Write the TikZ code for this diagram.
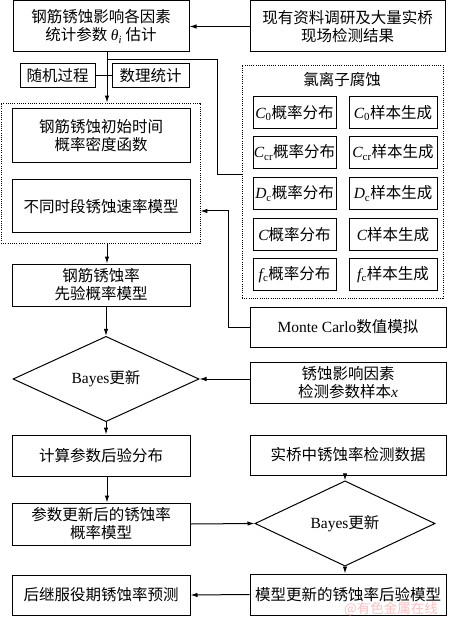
\documentclass[tikz,border=0pt]{standalone}
\usepackage{fontspec}
\setmainfont{Liberation Serif}
\newfontfamily\cjk{Noto Sans CJK SC}
\usetikzlibrary{shapes.geometric,arrows.meta}
\newcommand\lat[1]{{\rmfamily #1}}
\newcommand\lit[1]{{\rmfamily\itshape #1}}
\begin{document}
\begin{tikzpicture}[x=1pt,y=-1pt,
  bx/.style 2 args={draw,line width=1pt,minimum width=#1,minimum height=#2,inner sep=0pt,align=center,font=\cjk\fontsize{15.5}{18}\selectfont},
  dia/.style 2 args={draw,diamond,line width=1pt,minimum width=#1,minimum height=#2,inner sep=0pt,align=center,font=\cjk\fontsize{15.5}{18}\selectfont},
  dotbox/.style 2 args={draw,line width=0.75pt,dash pattern=on 1pt off 1.2pt,minimum width=#1,minimum height=#2,inner sep=0pt},
  arr/.style={line width=1pt,-{Latex[length=7pt,width=4.5pt]}},
  ln/.style={line width=1pt}]
\useasboundingbox (0,0) rectangle (450,617);
\fill[white] (0,0) rectangle (450,617);
% left column
\node[bx={176}{51}] (A) at (101,26.5) {钢筋锈蚀影响各因素\\统计参数 \lit{θ\textsubscript{i}} 估计};
\node[bx={195}{51}] (B) at (347.5,26.5) {现有资料调研及大量实桥\\现场检测结果};
\node[bx={75}{24}] (C) at (57.5,76) {随机过程};
\node[bx={77}{24}] (D) at (150.5,76) {数理统计};
\node[dotbox={199}{140}] (E) at (100.5,173) {};
\node[bx={178}{54}] (E1) at (101,136) {钢筋锈蚀初始时间\\概率密度函数};
\node[bx={178}{53}] (E2) at (101,206.5) {不同时段锈蚀速率模型};
\node[bx={178}{42}] (F) at (101,285) {钢筋锈蚀率\\先验概率模型};
\node[dia={186}{68}] (G) at (106,379) {\lat{Bayes}更新};
\node[bx={178}{41}] (I) at (101,455.5) {计算参数后验分布};
\node[bx={178}{42}] (K) at (101,524) {参数更新后的锈蚀率\\概率模型};
\node[bx={178}{40}] (N) at (101,595) {后继服役期锈蚀率预测};
% right column
\node[dotbox={201}{233}] (O) at (342.5,181.5) {};
\node[font=\cjk\fontsize{15.5}{18}\selectfont] (Ot) at (342,80) {氯离子腐蚀};
\node[bx={83}{32}] (s1) at (294.5,113) {\lit{C}\lat{\textsubscript{0}}概率分布};
\node[bx={88}{32}] (t1) at (393,113) {\lit{C}\lat{\textsubscript{0}}样本生成};
\node[bx={83}{32}] (s2) at (294.5,152.5) {\lit{C}\lat{\textsubscript{cr}}概率分布};
\node[bx={88}{32}] (t2) at (393,152.5) {\lit{C}\lat{\textsubscript{cr}}样本生成};
\node[bx={83}{32}] (s3) at (294.5,193.5) {\lit{D}\lat{\textsubscript{c}}概率分布};
\node[bx={88}{32}] (t3) at (393,193.5) {\lit{D}\lat{\textsubscript{c}}样本生成};
\node[bx={83}{32}] (s4) at (294.5,234.5) {\lit{C}概率分布};
\node[bx={88}{32}] (t4) at (393,234.5) {\lit{C}样本生成};
\node[bx={83}{32}] (s5) at (294.5,274.5) {\lit{f}\lat{\textsubscript{c}}概率分布};
\node[bx={88}{32}] (t5) at (393,274.5) {\lit{f}\lat{\textsubscript{c}}样本生成};
\node[bx={196}{40}] (P) at (348,327) {\lat{Monte Carlo}数值模拟};
\node[bx={196}{41}] (H) at (348,382.5) {锈蚀影响因素\\检测参数样本\lit{x}};
\node[bx={196}{40}] (J) at (348,455) {实桥中锈蚀率检测数据};
\node[dia={180}{51}] (L) at (345,523.5) {\lat{Bayes}更新};
\node[bx={196}{41}] (M) at (348,594.5) {模型更新的锈蚀率后验模型};
\node[text=red!25,font=\cjk\fontsize{13.5}{14}\selectfont] (wm) at (391,609) {@有色金属在线};
% connectors
\coordinate (v1) at (107,0);
\coordinate (j1) at (107,60);
\coordinate (j2) at (217,175);
\coordinate (k1) at (228,211);
\draw[arr] (B.west) -- (A.east);
\draw[arr] (A.south -| v1) -- (E.north -| v1);
\draw[ln] (C.east) -- (D.west);
\draw[ln] (j1) -| (j2) -- (j2 -| O.west);
\draw[arr] (P.west) -| (k1) -- (k1 -| E.east);
\draw[arr] (E.south -| v1) -- (F.north -| v1);
\draw[arr] (F.south -| G.north) -- (G.north);
\draw[arr] (G.east -| H.west) -- (G.east);
\draw[arr] (G.south) -- (G.south |- I.north);
\draw[arr] (I.south -| v1) -- (K.north -| v1);
\draw[arr] (K.east) -- (L.west);
\draw[arr] (J.south -| L.north) -- (L.north);
\draw[arr] (L.south) -- (L.south |- M.north);
\draw[arr] (M.west) -- (N.east);
\end{tikzpicture}
\end{document}
